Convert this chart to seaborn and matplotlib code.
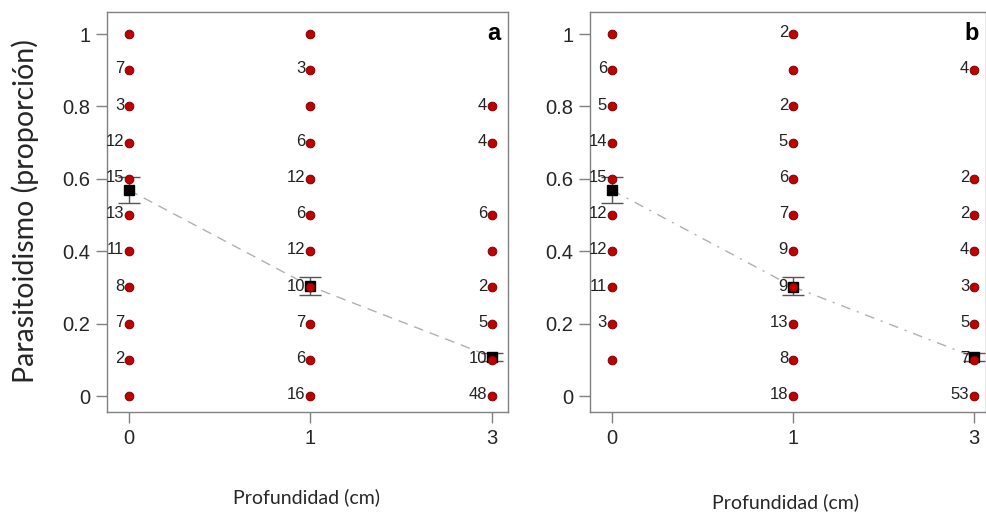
import matplotlib
matplotlib.use("Agg")
import matplotlib.pyplot as plt
import seaborn as sns
import pandas as pd
import numpy as np

# ---------------- data ----------------
depth_labels = ["0", "1", "3"]

# Panel a
a_props_0 = [1.0, 0.9, 0.8, 0.7, 0.6, 0.5, 0.4, 0.3, 0.2, 0.1, 0.0]
a_n_0 = [None, 7, 3, 12, 15, 13, 11, 8, 7, 2, None]
a_props_1 = [1.0, 0.9, 0.8, 0.7, 0.6, 0.5, 0.4, 0.3, 0.2, 0.1, 0.0]
a_n_1 = [None, 3, None, 6, 12, 6, 12, 10, 7, 6, 16]
a_props_3 = [0.8, 0.7, 0.5, 0.4, 0.3, 0.2, 0.1, 0.0]
a_n_3 = [4, 4, 6, None, 2, 5, 10, 48]
a_mean = [0.569, 0.303, 0.108]
a_lo = [0.533, 0.279, 0.096]
a_hi = [0.605, 0.329, 0.119]

# Panel b
b_props_0 = [1.0, 0.9, 0.8, 0.7, 0.6, 0.5, 0.4, 0.3, 0.2, 0.1]
b_n_0 = [None, 6, 5, 14, 15, 12, 12, 11, 3, None]
b_props_1 = [1.0, 0.9, 0.8, 0.7, 0.6, 0.5, 0.4, 0.3, 0.2, 0.1, 0.0]
b_n_1 = [2, None, 2, 5, 6, 7, 9, 9, 13, 8, 18]
b_props_3 = [0.9, 0.6, 0.5, 0.4, 0.3, 0.2, 0.1, 0.0]
b_n_3 = [4, 2, 2, 4, 3, 5, 7, 53]
b_mean = [0.569, 0.302, 0.108]
b_lo = [0.533, 0.279, 0.096]
b_hi = [0.605, 0.329, 0.119]

y_ticks = [0, 0.2, 0.4, 0.6, 0.8, 1.0]
y_tick_labels = ["0", "0.2", "0.4", "0.6", "0.8", "1"]

# ---------------- style ----------------
sns.set_theme(style="white")
plt.rcParams["font.family"] = ["Liberation Sans", "DejaVu Sans"]

fig = plt.figure(figsize=(9.87, 5.17), dpi=100)
ax_a = fig.add_axes([107 / 987, 1 - 412 / 517, 401 / 987, 400 / 517])
ax_b = fig.add_axes([590 / 987, 1 - 412 / 517, 396 / 987, 400 / 517])

spine_col = "#808080"
arial = ["Liberation Sans", "DejaVu Sans"]


def build_df(props_list, n_list):
    rows = []
    for i, (props, ns) in enumerate(zip(props_list, n_list)):
        for p, n in zip(props, ns):
            rows.append({"pos": i, "prop": p, "n": n})
    return pd.DataFrame(rows)


def draw_panel(ax, df, means, lo, hi, letter, dash, xmax):
    sns.lineplot(x=[0, 1, 2], y=means, ax=ax, color="#b0b0b0", lw=1.0,
                 linestyle=dash, zorder=1)
    yerr = [np.array(means) - np.array(lo), np.array(hi) - np.array(means)]
    ax.errorbar([0, 1, 2], means, yerr=yerr, fmt="s", color="black",
                ms=6.5, ecolor="#555555", elinewidth=1.0, capsize=8,
                capthick=1.0, zorder=3)
    sns.scatterplot(data=df, x="pos", y="prop", ax=ax, color="#c00000",
                    edgecolor="#6a0000", linewidth=0.6, s=40, zorder=4)
    for _, r in df.iterrows():
        if r["n"] is not None and not pd.isna(r["n"]):
            ax.annotate(str(int(r["n"])), (r["pos"], r["prop"]),
                        xytext=(-3.5, 1), textcoords="offset points",
                        ha="right", va="center", fontsize=12,
                        color="#222222", zorder=5, family=arial)
    ax.set_xlim(-0.121, xmax)
    ax.set_ylim(-0.044, 1.061)
    ax.set_xticks([0, 1, 2])
    ax.set_xticklabels(depth_labels, fontsize=14.5, family=arial)
    ax.set_yticks(y_ticks)
    ax.set_yticklabels(y_tick_labels, fontsize=14.5, family=arial)
    ax.tick_params(axis="both", length=8, width=1.0, color=spine_col,
                   direction="out", left=True, bottom=True, pad=4)
    ax.tick_params(axis="x", pad=4)
    for s in ax.spines.values():
        s.set_visible(True)
        s.set_color(spine_col)
        s.set_linewidth(1.0)
    ax.set_xlabel("")
    ax.set_ylabel("")
    ax.text(0.982, 0.975, letter, transform=ax.transAxes, ha="right",
            va="top", fontsize=17, fontweight="bold", color="black",
            family=arial)


df_a = build_df([a_props_0, a_props_1, a_props_3], [a_n_0, a_n_1, a_n_3])
df_b = build_df([b_props_0, b_props_1, b_props_3], [b_n_0, b_n_1, b_n_3])

draw_panel(ax_a, df_a, a_mean, a_lo, a_hi, "a", (0, (7, 5)), 2.088)
draw_panel(ax_b, df_b, b_mean, b_lo, b_hi, "b", (0, (7, 5, 1.5, 5)), 2.066)

label_font = ["Lato", "DejaVu Sans"]
fig.text(25 / 987, 1 - 211 / 517, "Parasitoidismo (proporción)", rotation=90,
         ha="center", va="center", fontsize=20.5, family=label_font)
fig.text(307 / 987, 1 - 497 / 517, "Profundidad (cm)", ha="center",
         va="center", fontsize=14, family=label_font)
fig.text(786 / 987, 1 - 502 / 517, "Profundidad (cm)", ha="center",
         va="center", fontsize=14, family=label_font)

fig.savefig("out.png", dpi=100)
